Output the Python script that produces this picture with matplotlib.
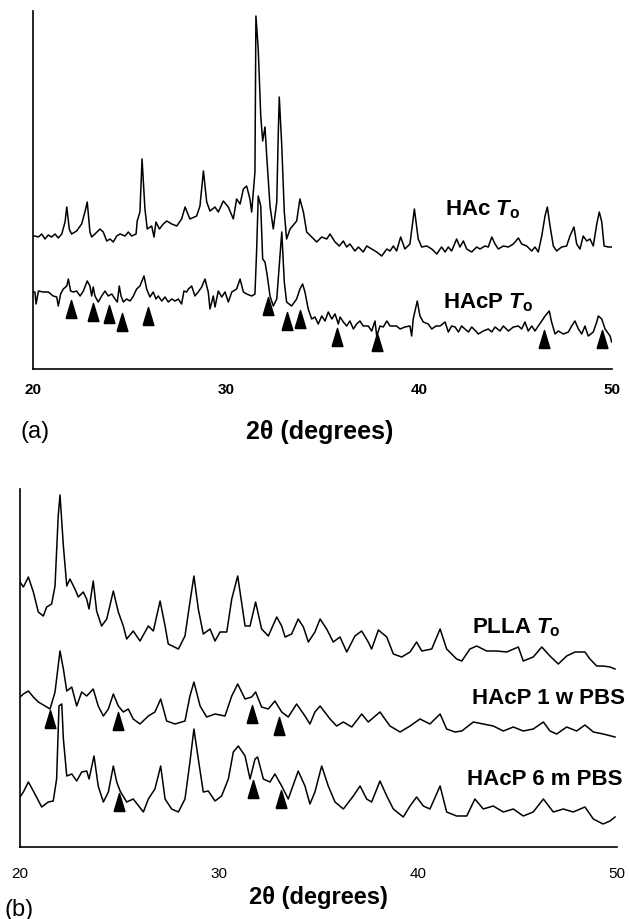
import matplotlib
matplotlib.use("Agg")
import matplotlib.pyplot as plt

# ---- (a) HAc / HAcP at T0 ----
hac_x = [20.0, 20.10, 20.28, 20.45, 20.62, 20.79, 20.97, 21.14, 21.31, 21.49,
         21.66, 21.75, 21.88, 22.00, 22.26, 22.52, 22.69, 22.81, 22.95, 23.04,
         23.21, 23.47, 23.64, 23.82, 23.99, 24.16, 24.34, 24.51, 24.77, 24.94,
         25.11, 25.34, 25.40, 25.54, 25.65, 25.80, 25.92, 26.15, 26.27, 26.37,
         26.55, 26.75, 26.93, 27.19, 27.45, 27.70, 27.88, 28.13, 28.48, 28.65,
         28.83, 29.00, 29.17, 29.43, 29.60, 29.86, 30.12, 30.38, 30.55, 30.73,
         30.90, 31.07, 31.24, 31.33, 31.50, 31.55, 31.67, 31.80, 31.90, 32.02,
         32.11, 32.28, 32.45, 32.63, 32.71, 32.76, 32.89, 33.02, 33.14, 33.32,
         33.66, 33.83, 34.01, 34.18, 34.44, 34.70, 34.96, 35.22, 35.39, 35.65,
         35.87, 36.08, 36.25, 36.42, 36.68, 36.86, 37.11, 37.29, 37.55, 37.81,
         38.07, 38.33, 38.50, 38.67, 38.84, 39.05, 39.27, 39.53, 39.76, 39.96,
         40.14, 40.40, 40.66, 40.92, 41.17, 41.35, 41.52, 41.69, 41.95, 42.12,
         42.30, 42.47, 42.73, 42.99, 43.16, 43.42, 43.59, 43.77, 43.94, 44.11,
         44.37, 44.63, 44.89, 45.15, 45.32, 45.58, 45.84, 46.01, 46.18, 46.36,
         46.53, 46.65, 46.79, 46.96, 47.13, 47.39, 47.65, 47.82, 48.03, 48.17,
         48.34, 48.51, 48.69, 48.86, 49.03, 49.21, 49.34, 49.47, 49.59, 49.81,
         49.98]
hac_y = [133, 133, 132, 135, 130, 134, 132, 135, 131, 135,
         147, 162, 140, 135, 138, 145, 157, 167, 137, 132,
         135, 140, 137, 128, 130, 127, 133, 135, 133, 137,
         133, 135, 148, 157, 210, 160, 140, 143, 132, 147,
         140, 145, 148, 145, 143, 150, 162, 150, 153, 163,
         198, 167, 158, 162, 157, 168, 162, 150, 170, 165,
         180, 183, 170, 157, 197, 353, 320, 253, 228, 242,
         213, 163, 140, 167, 237, 272, 223, 157, 130, 140,
         148, 170, 157, 137, 132, 127, 132, 130, 135, 127,
         123, 128, 122, 125, 118, 122, 117, 123, 120, 117,
         113, 120, 118, 123, 118, 132, 120, 125, 160, 130,
         122, 123, 120, 115, 122, 117, 122, 118, 130, 122,
         128, 120, 117, 122, 120, 123, 122, 132, 125, 120,
         123, 122, 125, 131, 125, 123, 118, 122, 117, 133,
         153, 162, 143, 123, 118, 122, 123, 133, 142, 125,
         120, 133, 128, 130, 123, 145, 157, 147, 123, 122,
         122]

hacp_x = [20.0, 20.10, 20.16, 20.28, 20.53, 20.79, 21.05, 21.23, 21.31, 21.43,
          21.57, 21.75, 21.83, 21.95, 22.09, 22.26, 22.44, 22.61, 22.81, 22.95,
          23.04, 23.12, 23.21, 23.38, 23.56, 23.73, 23.90, 24.08, 24.25, 24.37,
          24.47, 24.56, 24.68, 24.85, 25.03, 25.20, 25.37, 25.54, 25.75, 25.89,
          26.06, 26.23, 26.37, 26.49, 26.67, 26.84, 27.01, 27.19, 27.36, 27.53,
          27.70, 27.82, 27.96, 28.05, 28.22, 28.39, 28.56, 28.74, 28.91, 29.08,
          29.17, 29.34, 29.43, 29.60, 29.78, 29.95, 30.12, 30.30, 30.55, 30.73,
          30.90, 31.07, 31.33, 31.50, 31.59, 31.67, 31.80, 31.90, 32.02, 32.14,
          32.28, 32.45, 32.63, 32.76, 32.89, 33.02, 33.14, 33.40, 33.66, 33.83,
          33.97, 34.09, 34.26, 34.44, 34.61, 34.78, 34.96, 35.13, 35.30, 35.48,
          35.65, 35.82, 35.91, 36.08, 36.25, 36.42, 36.60, 36.77, 36.94, 37.11,
          37.37, 37.55, 37.72, 37.81, 37.98, 38.15, 38.33, 38.50, 38.67, 38.84,
          39.02, 39.27, 39.53, 39.62, 39.70, 39.91, 40.05, 40.22, 40.48, 40.66,
          40.88, 41.09, 41.35, 41.52, 41.69, 41.87, 42.04, 42.21, 42.38, 42.56,
          42.73, 42.99, 43.07, 43.33, 43.59, 43.77, 43.94, 44.20, 44.37, 44.63,
          44.89, 45.15, 45.32, 45.49, 45.66, 45.84, 46.01, 46.18, 46.36, 46.53,
          46.75, 46.87, 47.05, 47.22, 47.48, 47.74, 47.91, 48.08, 48.26, 48.43,
          48.60, 48.77, 49.03, 49.21, 49.29, 49.47, 49.64, 49.90, 49.98]
hacp_y = [77, 77, 65, 78, 77, 77, 73, 72, 63, 75,
          80, 83, 90, 78, 77, 78, 73, 78, 88, 83,
          73, 82, 73, 67, 73, 78, 73, 75, 70, 67,
          83, 73, 67, 70, 68, 73, 80, 83, 93, 80,
          72, 77, 70, 73, 68, 72, 67, 70, 68, 70,
          65, 78, 77, 80, 83, 73, 77, 82, 90, 77,
          60, 73, 62, 78, 72, 77, 67, 77, 80, 90,
          77, 75, 73, 75, 120, 173, 163, 110, 107, 93,
          73, 63, 70, 103, 137, 87, 67, 63, 70, 80,
          85, 77, 60, 50, 52, 45, 53, 48, 57, 50,
          55, 45, 52, 47, 43, 48, 40, 45, 48, 43,
          43, 38, 48, 33, 43, 42, 48, 43, 43, 43,
          40, 42, 43, 33, 50, 68, 53, 47, 45, 40,
          43, 43, 47, 37, 43, 42, 37, 43, 40, 37,
          42, 37, 35, 38, 40, 37, 42, 38, 43, 38,
          42, 43, 40, 47, 38, 43, 38, 43, 48, 53,
          58, 47, 35, 38, 35, 37, 43, 48, 40, 35,
          43, 33, 37, 47, 53, 50, 40, 33, 27]

# arrowheads marking HA reflections in (a)
mark_a_x = [21.97, 23.10, 23.94, 24.60, 25.96, 32.20, 33.16, 33.83, 35.75, 37.80, 46.50, 49.50]
mark_a_y = [60, 57, 55, 47, 53, 63, 48, 50, 32, 27, 30, 30]

# ---- (b) PLLA and HAcP after PBS ----
plla_x = [20.0, 20.17, 20.42, 20.67, 20.92, 21.17, 21.34, 21.59, 21.76, 21.92,
          22.01, 22.18, 22.35, 22.51, 22.76, 22.93, 23.18, 23.35, 23.47, 23.68,
          23.85, 24.10, 24.36, 24.69, 24.94, 25.19, 25.36, 25.69, 26.03, 26.45,
          26.70, 27.04, 27.29, 27.45, 27.96, 28.29, 28.54, 28.74, 28.96, 29.21,
          29.55, 29.80, 30.05, 30.39, 30.64, 30.94, 31.31, 31.56, 31.84, 32.14,
          32.48, 32.90, 33.15, 33.32, 33.65, 33.98, 34.24, 34.49, 34.82, 35.08,
          35.41, 35.74, 36.08, 36.42, 36.83, 37.17, 37.50, 37.67, 38.01, 38.43,
          38.76, 39.18, 39.60, 39.93, 40.19, 40.69, 41.11, 41.44, 41.94, 42.20,
          42.61, 42.95, 43.45, 43.95, 44.46, 45.04, 45.29, 45.79, 46.22, 46.63,
          47.05, 47.47, 47.89, 48.39, 48.64, 48.98, 49.31, 49.65, 49.90]
plla_y = [265, 260, 270, 255, 235, 231, 240, 243, 261, 331,
          352, 301, 261, 268, 258, 250, 255, 248, 238, 266,
          236, 221, 228, 256, 235, 221, 208, 216, 206, 221,
          216, 246, 221, 203, 198, 211, 245, 271, 238, 213,
          218, 206, 215, 215, 248, 271, 221, 221, 245, 218,
          211, 230, 221, 210, 213, 228, 220, 205, 215, 228,
          218, 205, 210, 195, 211, 216, 205, 198, 217, 210,
          193, 190, 195, 205, 196, 198, 218, 198, 188, 186,
          198, 201, 196, 196, 195, 200, 186, 190, 200, 191,
          183, 191, 195, 195, 188, 181, 181, 180, 178]

pbs1w_x = [20.0, 20.17, 20.42, 20.67, 20.92, 21.26, 21.51, 21.76, 22.01, 22.18,
           22.35, 22.60, 22.85, 23.10, 23.35, 23.68, 23.93, 24.19, 24.44, 24.69,
           24.94, 25.19, 25.44, 25.69, 26.03, 26.45, 26.78, 27.07, 27.37, 27.79,
           28.29, 28.54, 28.74, 29.05, 29.38, 29.80, 30.30, 30.64, 30.94, 31.31,
           31.64, 31.84, 32.14, 32.48, 32.81, 33.15, 33.48, 33.90, 34.32, 34.57,
           34.82, 35.08, 35.58, 35.91, 36.25, 36.67, 37.17, 37.50, 38.09, 38.59,
           39.10, 39.60, 40.10, 40.60, 41.11, 41.44, 41.86, 42.20, 42.78, 43.28,
           43.78, 44.29, 44.79, 45.29, 45.79, 46.30, 46.63, 46.97, 47.47, 47.97,
           48.39, 48.81, 49.31, 49.90]
pbs1w_y = [150, 153, 156, 150, 145, 141, 138, 155, 196, 178,
           156, 160, 141, 155, 151, 158, 141, 131, 138, 153,
           141, 135, 138, 128, 123, 131, 135, 148, 126, 123,
           126, 151, 165, 141, 130, 133, 131, 151, 163, 148,
           150, 155, 140, 138, 146, 135, 130, 143, 131, 123,
           135, 141, 128, 121, 125, 120, 133, 125, 135, 121,
           115, 121, 128, 123, 133, 118, 115, 116, 125, 123,
           121, 116, 120, 116, 118, 125, 116, 113, 120, 116,
           122, 115, 113, 110]

pbs6m_x = [20.0, 20.17, 20.42, 20.67, 21.09, 21.42, 21.67, 21.84, 21.96, 22.10,
           22.18, 22.35, 22.60, 22.85, 23.10, 23.35, 23.47, 23.72, 23.93, 24.19,
           24.44, 24.69, 24.86, 25.03, 25.36, 25.69, 26.20, 26.45, 26.78, 27.07,
           27.29, 27.62, 27.96, 28.29, 28.54, 28.74, 28.96, 29.21, 29.46, 29.80,
           30.13, 30.47, 30.72, 30.97, 31.31, 31.56, 31.81, 31.94, 32.23, 32.56,
           32.81, 33.15, 33.48, 33.98, 34.32, 34.57, 34.82, 35.16, 35.49, 35.83,
           36.25, 36.75, 37.09, 37.42, 37.67, 38.09, 38.43, 38.76, 39.26, 39.60,
           39.93, 40.27, 40.60, 41.11, 41.44, 41.94, 42.45, 42.86, 43.28, 43.78,
           44.29, 44.79, 45.29, 45.79, 46.30, 46.80, 47.30, 47.80, 48.39, 48.81,
           49.30, 49.65, 49.90]
pbs6m_y = [50, 55, 65, 56, 40, 45, 46, 68, 141, 143,
           108, 71, 73, 66, 75, 76, 68, 91, 61, 45,
           55, 81, 65, 56, 45, 48, 35, 48, 58, 81,
           48, 38, 35, 48, 85, 118, 88, 55, 56, 46,
           51, 68, 95, 101, 91, 68, 88, 90, 68, 65,
           73, 61, 48, 76, 61, 43, 55, 81, 61, 45,
           38, 51, 61, 48, 45, 66, 51, 38, 30, 41,
           50, 41, 38, 61, 35, 31, 31, 48, 38, 41,
           35, 38, 31, 35, 48, 35, 38, 35, 40, 28,
           23, 26, 30]

mark_b_x = [21.51, 24.92, 31.66, 33.02, 24.97, 31.71, 33.12]
mark_b_y = [128, 126, 133, 121, 45, 58, 48]

ticks = [20, 30, 40, 50]

plt.rcParams['font.family'] = ['Liberation Sans', 'DejaVu Sans']
plt.rcParams['mathtext.fontset'] = 'custom'
plt.rcParams['mathtext.it'] = 'Liberation Sans:italic:bold'
plt.rcParams['mathtext.bf'] = 'Liberation Sans:bold'
plt.rcParams['mathtext.rm'] = 'Liberation Sans:bold'

W, H = 629.0, 920.0
fig = plt.figure(figsize=(6.29, 9.20), dpi=100)
ax_a = fig.add_axes([33 / W, 1 - 370 / H, 579 / W, 358 / H])
ax_b = fig.add_axes([20 / W, 1 - 848 / H, 597 / W, 358 / H])

# tall narrow arrowhead
tri = [(-0.6, -1.0), (0.6, -1.0), (0.0, 1.0), (-0.6, -1.0)]

ax_a.plot(hac_x, hac_y, color="black", lw=1.1, solid_joinstyle="round")
ax_a.plot(hacp_x, hacp_y, color="black", lw=1.1, solid_joinstyle="round")
ax_a.plot(mark_a_x, mark_a_y, ls="none", marker=tri, ms=13, color="black")

ax_b.plot(plla_x, plla_y, color="black", lw=1.1, solid_joinstyle="round")
ax_b.plot(pbs1w_x, pbs1w_y, color="black", lw=1.1, solid_joinstyle="round")
ax_b.plot(pbs6m_x, pbs6m_y, color="black", lw=1.1, solid_joinstyle="round")
ax_b.plot(mark_b_x, mark_b_y, ls="none", marker=tri, ms=13, color="black")

for ax, pad, wt in [(ax_a, 9, "bold"), (ax_b, 14, "normal")]:
    ax.set_xlim(20, 50)
    ax.set_ylim(0, 358)
    ax.set_xticks(ticks)
    ax.set_yticks([])
    ax.tick_params(axis="x", length=0, pad=pad, labelsize=11)
    for lbl in ax.get_xticklabels():
        lbl.set_fontweight(wt)
    ax.spines["top"].set_visible(False)
    ax.spines["right"].set_visible(False)
    ax.spines["left"].set_linewidth(1.2)
    ax.spines["bottom"].set_linewidth(1.2)
    ax.patch.set_alpha(0)

ax_a.text(41.35, 160, r"HAc $\mathit{T}_{\mathbf{o}}$", fontsize=16, fontweight="bold", va="center")
ax_a.text(41.24, 67, r"HAcP $\mathit{T}_{\mathbf{o}}$", fontsize=16, fontweight="bold", va="center")

ax_b.text(42.71, 220, r"PLLA $\mathit{T}_{\mathbf{o}}$", fontsize=16, fontweight="bold", va="center", clip_on=False)
ax_b.text(50.4, 150, "HAcP 1 w PBS", fontsize=16, fontweight="bold", va="center", ha="right", clip_on=False)
ax_b.text(50.3, 68, "HAcP 6 m PBS", fontsize=16, fontweight="bold", va="center", ha="right", clip_on=False)

fig.text(320 / W, 1 - 432 / H, "2\u03b8 (degrees)", fontsize=18, fontweight="bold", ha="center", va="center")
fig.text(20 / W, 1 - 432 / H, "(a)", fontsize=17, ha="left", va="center")
fig.text(318 / W, 1 - 898 / H, "2\u03b8 (degrees)", fontsize=17, fontweight="bold", ha="center", va="center")
fig.text(5 / W, 1 - 910 / H, "(b)", fontsize=17, ha="left", va="center")

fig.savefig("out.png", dpi=100)
